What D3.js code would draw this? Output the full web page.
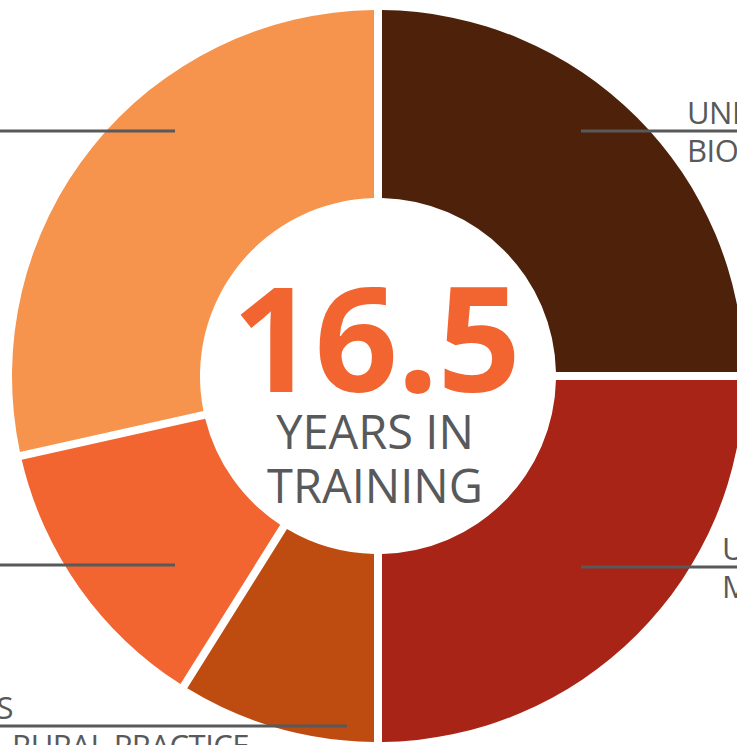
<!DOCTYPE html>
<html>
<head>
<meta charset="utf-8">
<script src="https://cdn.jsdelivr.net/npm/d3@7"></script>
<style>
  html, body { margin: 0; padding: 0; background: #fff; overflow: hidden; }
  svg { display: block; }
  text { font-family: "Open Sans", sans-serif; }
</style>
</head>
<body>
<div id="chart"></div>
<script>
// share of the 16.5 years, clockwise from 12 o'clock
const stages = ["Biomedical science", "Medicine", "Rural practice", "Internship and residency", "Schooling"];
const shares = [25, 25, 8.9, 12.6, 28.5];
const colors = ["#4e220a", "#a82416", "#be4b10", "#f26430", "#f6934c"];
const labelTop = ["UNIVERSITY", "UNIVERSITY", "GENERALIST YEARS", "INTERNSHIP", "SECONDARY"];
const labelBottom = ["BIOMEDICAL SCIENCE", "MEDICINE", "RURAL PRACTICE", "RESIDENCY", "SCHOOL"];
const totalYears = "16.5";
const centerLines = ["YEARS IN", "TRAINING"];

const width = 737, height = 745;
const cx = 378, cy = 376;
const outerR = 366, innerR = 178;

const svg = d3.select("#chart").append("svg")
    .attr("width", width)
    .attr("height", height);

const g = svg.append("g")
    .attr("transform", `translate(${cx},${cy})`);

const pie = d3.pie().sort(null).value(d => d.share);
const arc = d3.arc()
    .innerRadius(innerR)
    .outerRadius(outerR)
    .padRadius(outerR)
    .padAngle(8 / outerR);

const data = stages.map((s, i) => ({ stage: s, share: shares[i], color: colors[i] }));
const arcs = pie(data);

g.selectAll("path")
    .data(arcs)
  .enter().append("path")
    .attr("d", arc)
    .style("fill", d => d.data.color);

// leader lines and labels: [lineX1, lineX2, lineY, textX, anchor]
const labelLayout = [
    [581 - cx, 760 - cx, 131 - cy, 687 - cx, "start"],
    [581 - cx, 760 - cx, 567 - cy, 722 - cx, "start"],
    [-400, 347 - cx, 726 - cy, 13 - cx, "end"],
    [-400, 175 - cx, 565 - cy, -400, "end"],
    [-400, 175 - cx, 131 - cy, -400, "end"]
];

const labels = g.selectAll(".label")
    .data(arcs)
  .enter().append("g")
    .attr("class", "label");

labels.append("line")
    .attr("x1", (d, i) => labelLayout[i][0])
    .attr("x2", (d, i) => labelLayout[i][1])
    .attr("y1", (d, i) => labelLayout[i][2])
    .attr("y2", (d, i) => labelLayout[i][2])
    .style("stroke", "#58595b")
    .style("stroke-width", 3);

labels.append("text")
    .attr("x", (d, i) => labelLayout[i][3])
    .attr("y", (d, i) => labelLayout[i][2] - 7)
    .style("text-anchor", (d, i) => labelLayout[i][4])
    .style("font-size", "31px")
    .style("letter-spacing", "-0.5px")
    .style("fill", "#58595b")
    .text((d, i) => labelTop[i]);

labels.append("text")
    .attr("x", (d, i) => i === 2 ? 12 - cx : labelLayout[i][3])
    .attr("y", (d, i) => labelLayout[i][2] + 31)
    .style("text-anchor", (d, i) => i === 2 ? "start" : labelLayout[i][4])
    .style("font-size", "31px")
    .style("letter-spacing", "-0.5px")
    .style("fill", "#58595b")
    .text((d, i) => labelBottom[i]);

// centre
g.append("text")
    .attr("x", -2)
    .attr("y", 392 - cy)
    .style("text-anchor", "middle")
    .style("font-size", "146px")
    .style("font-weight", "bold")
    .style("letter-spacing", "-1px")
    .style("fill", "#f26430")
    .text(totalYears);

g.selectAll(".centre-line")
    .data(centerLines)
  .enter().append("text")
    .attr("class", "centre-line")
    .attr("x", -3)
    .attr("y", (d, i) => 449 - cy + i * 54)
    .style("text-anchor", "middle")
    .style("font-size", "47px")
    .style("fill", "#58595b")
    .text(d => d);
</script>
</body>
</html>
